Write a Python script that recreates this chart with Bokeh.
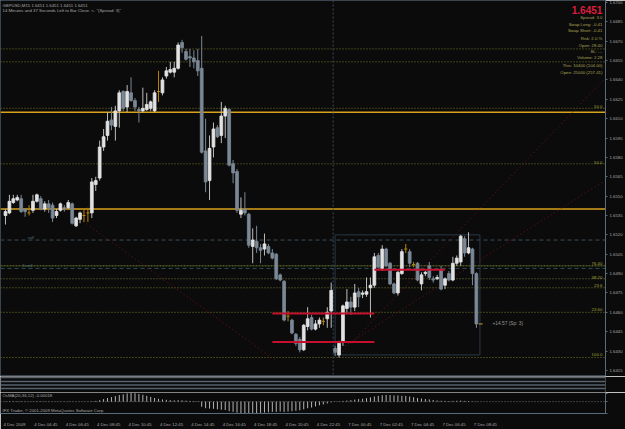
from bokeh.plotting import figure
from bokeh.models import Range1d, FixedTicker, Span, Label, ColumnDataSource, NumeralTickFormatter
from bokeh.layouts import column
from bokeh.embed import file_html
from bokeh.resources import INLINE

# ---------------- data (GBPUSD, M15) ----------------
opens = [1.6535, 1.6537, 1.6545, 1.6547, 1.6548, 1.6540, 1.6537, 1.6539, 1.6546, 1.6548,
         1.6540, 1.6544, 1.6543, 1.6535, 1.6539, 1.6541, 1.6541, 1.6544, 1.6527, 1.6532,
         1.6535, 1.6537, 1.6537, 1.6559, 1.6564, 1.6588, 1.6597, 1.6609, 1.6604, 1.6616,
         1.6631, 1.6619, 1.6630, 1.6624, 1.6617, 1.6616, 1.6617, 1.6618, 1.6616, 1.6631,
         1.6630, 1.6643, 1.6646, 1.6646, 1.6649, 1.6669, 1.6662, 1.6658, 1.6657, 1.6655,
         1.6649, 1.6585, 1.6562, 1.6588, 1.6603, 1.6597, 1.6612, 1.6617, 1.6575, 1.6569,
         1.6536, 1.6540, 1.6536, 1.6511, 1.6515, 1.6510, 1.6509, 1.6511, 1.6506, 1.6505,
         1.6489, 1.6484, 1.6457, 1.6454, 1.6443, 1.6439, 1.6431, 1.6449, 1.6456, 1.6447,
         1.6451, 1.6453, 1.6455, 1.6461, 1.6432, 1.6427, 1.6437, 1.6463, 1.6468, 1.6464,
         1.6476, 1.6474, 1.6474, 1.6479, 1.6481, 1.6504, 1.6494, 1.6509, 1.6498, 1.6482,
         1.6475, 1.6490, 1.6509, 1.6507, 1.6497, 1.6498, 1.6482, 1.6490, 1.6496, 1.6486,
         1.6486, 1.6493, 1.6481, 1.6490, 1.6485, 1.6498, 1.6499, 1.6517, 1.6506, 1.6509,
         1.6490]
highs = [1.6540, 1.6551, 1.6551, 1.6551, 1.6551, 1.6540, 1.6543, 1.6551, 1.6552, 1.6550,
         1.6546, 1.6547, 1.6545, 1.6540, 1.6545, 1.6543, 1.6547, 1.6545, 1.6534, 1.6538,
         1.6540, 1.6541, 1.6564, 1.6565, 1.6593, 1.6602, 1.6615, 1.6619, 1.6620, 1.6632,
         1.6632, 1.6636, 1.6642, 1.6626, 1.6619, 1.6634, 1.6630, 1.6624, 1.6632, 1.6647,
         1.6642, 1.6650, 1.6654, 1.6654, 1.6669, 1.6671, 1.6664, 1.6664, 1.6663, 1.6664,
         1.6674, 1.6610, 1.6597, 1.6607, 1.6605, 1.6623, 1.6620, 1.6618, 1.6578, 1.6571,
         1.6549, 1.6553, 1.6537, 1.6525, 1.6527, 1.6513, 1.6521, 1.6513, 1.6509, 1.6506,
         1.6490, 1.6485, 1.6461, 1.6455, 1.6444, 1.6441, 1.6451, 1.6464, 1.6458, 1.6454,
         1.6456, 1.6456, 1.6464, 1.6483, 1.6434, 1.6438, 1.6466, 1.6478, 1.6472, 1.6482,
         1.6479, 1.6477, 1.6487, 1.6487, 1.6506, 1.6506, 1.6512, 1.6510, 1.6499, 1.6483,
         1.6492, 1.6509, 1.6513, 1.6509, 1.6499, 1.6499, 1.6491, 1.6492, 1.6499, 1.6488,
         1.6489, 1.6496, 1.6487, 1.6492, 1.6503, 1.6504, 1.6520, 1.6519, 1.6522, 1.6510,
         1.6491]
lows = [1.6528, 1.6536, 1.6544, 1.6546, 1.6537, 1.6534, 1.6535, 1.6537, 1.6545, 1.6539,
        1.6538, 1.6537, 1.6530, 1.6533, 1.6538, 1.6538, 1.6540, 1.6528, 1.6526, 1.6529,
        1.6530, 1.6530, 1.6533, 1.6554, 1.6562, 1.6585, 1.6593, 1.6601, 1.6593, 1.6603,
        1.6616, 1.6615, 1.6623, 1.6616, 1.6607, 1.6615, 1.6616, 1.6616, 1.6615, 1.6623,
        1.6628, 1.6641, 1.6645, 1.6642, 1.6648, 1.6661, 1.6655, 1.6650, 1.6649, 1.6643,
        1.6583, 1.6553, 1.6547, 1.6580, 1.6595, 1.6591, 1.6595, 1.6573, 1.6560, 1.6537,
        1.6533, 1.6535, 1.6510, 1.6498, 1.6506, 1.6498, 1.6504, 1.6505, 1.6501, 1.6485,
        1.6484, 1.6453, 1.6453, 1.6443, 1.6434, 1.6429, 1.6430, 1.6446, 1.6446, 1.6446,
        1.6448, 1.6450, 1.6448, 1.6448, 1.6426, 1.6425, 1.6434, 1.6459, 1.6458, 1.6461,
        1.6464, 1.6471, 1.6472, 1.6456, 1.6479, 1.6494, 1.6492, 1.6495, 1.6481, 1.6474,
        1.6473, 1.6489, 1.6506, 1.6495, 1.6495, 1.6484, 1.6477, 1.6488, 1.6485, 1.6483,
        1.6485, 1.6477, 1.6478, 1.6484, 1.6484, 1.6496, 1.6496, 1.6503, 1.6505, 1.6481,
        1.6448]
closes = [1.6538, 1.6546, 1.6548, 1.6549, 1.6538, 1.6538, 1.6537, 1.6546, 1.6551, 1.6540,
          1.6544, 1.6541, 1.6533, 1.6538, 1.6544, 1.6540, 1.6545, 1.6529, 1.6533, 1.6537,
          1.6535, 1.6537, 1.6561, 1.6562, 1.6588, 1.6596, 1.6608, 1.6605, 1.6616, 1.6630,
          1.6618, 1.6631, 1.6624, 1.6619, 1.6616, 1.6618, 1.6621, 1.6623, 1.6630, 1.6631,
          1.6640, 1.6647, 1.6648, 1.6649, 1.6667, 1.6665, 1.6656, 1.6657, 1.6654, 1.6647,
          1.6584, 1.6561, 1.6587, 1.6602, 1.6596, 1.6612, 1.6618, 1.6574, 1.6568, 1.6539,
          1.6539, 1.6537, 1.6512, 1.6516, 1.6510, 1.6508, 1.6513, 1.6506, 1.6502, 1.6486,
          1.6485, 1.6454, 1.6457, 1.6444, 1.6436, 1.6431, 1.6450, 1.6455, 1.6447, 1.6451,
          1.6454, 1.6453, 1.6460, 1.6477, 1.6429, 1.6436, 1.6465, 1.6468, 1.6464, 1.6475,
          1.6472, 1.6475, 1.6476, 1.6481, 1.6503, 1.6495, 1.6509, 1.6496, 1.6482, 1.6475,
          1.6491, 1.6507, 1.6509, 1.6498, 1.6497, 1.6485, 1.6489, 1.6491, 1.6487, 1.6485,
          1.6487, 1.6478, 1.6486, 1.6485, 1.6498, 1.6502, 1.6519, 1.6506, 1.6510, 1.6490,
          1.6451]
osma = [0.00004, 0.00005, 0.00006, 0.00006, 0.00005, 0.00004, 0.00003, 0.00004, 0.00005, 0.00004,
        0.00004, 0.00003, 0.00002, 0.00002, 0.00003, 0.00003, 0.00004, 0.00002, 0.00001, 0.00001,
        0.00001, 0.00002, 0.00005, 0.00010, 0.00020, 0.00035, 0.00050, 0.00062, 0.00075, 0.00090,
        0.00100, 0.00112, 0.00118, 0.00115, 0.00105, 0.00095, 0.00080, 0.00065, 0.00050, 0.00040,
        0.00030, 0.00025, 0.00020, 0.00018, 0.00020, 0.00018, 0.00014, 0.00010, 0.00008, 0.00005,
        -0.00070, -0.00090, -0.00095, -0.00098, -0.00105, -0.00110, -0.00115, -0.00130, -0.00140, -0.00150,
        -0.00155, -0.00157, -0.00157, -0.00155, -0.00157, -0.00152, -0.00150, -0.00145, -0.00140, -0.00140,
        -0.00135, -0.00140, -0.00135, -0.00130, -0.00125, -0.00118, -0.00105, -0.00090, -0.00080, -0.00065,
        -0.00050, -0.00038, -0.00025, -0.00010, 0.00005, 0.00006, 0.00010, 0.00015, 0.00020, 0.00028,
        0.00035, 0.00040, 0.00048, 0.00058, 0.00070, 0.00078, 0.00088, 0.00092, 0.00090, 0.00085,
        0.00085, 0.00080, 0.00078, 0.00070, 0.00060, 0.00050, 0.00042, 0.00035, 0.00030, 0.00022,
        0.00016, 0.00012, 0.00010, 0.00008, 0.00010, 0.00012, 0.00014, 0.00010, 0.00008, 0.00004,
        -0.00003]

price_ticks = [1.6415, 1.6430, 1.6445, 1.6460, 1.6475, 1.6490, 1.6505, 1.6520, 1.6535, 1.6550,
               1.6565, 1.6580, 1.6595, 1.6610, 1.6625, 1.6640, 1.6655, 1.6670, 1.6685, 1.6700]
x_tick_bars = [-1, 7, 15, 23, 31, 39, 47, 55, 63, 71, 79, 87, 95, 103, 111, 119]
x_tick_labels = ["4 Dec 2009", "4 Dec 04:45", "4 Dec 06:45", "4 Dec 08:45", "4 Dec 10:45",
                 "4 Dec 12:45", "4 Dec 14:45", "4 Dec 16:45", "4 Dec 18:45", "4 Dec 20:45",
                 "4 Dec 22:45", "7 Dec 00:45", "7 Dec 02:45", "7 Dec 04:45", "7 Dec 06:45",
                 "7 Dec 08:45"]
osma_ticks = [0.00118, 0.0, -0.00157]
osma_tick_labels = ["0.00118", "0.00", "-0.00157"]

gold_levels = [1.6615, 1.6540]
olive_levels = [1.6664, 1.6654, 1.6618, 1.6575, 1.6486, 1.6479, 1.6460, 1.6425]
fib_label_levels = [1.6618, 1.6575, 1.6497, 1.6486, 1.6480, 1.6461, 1.6426]
fib_label_texts = ["50.0", "50.0", "76.40", "38.20", "23.6", "23.60", "100.0"]
fib76_level = 1.6496
sell_levels = [1.6516, 1.6494]
sell_texts = ["sell", "1 sell"]
red_y = [1.6459, 1.6437, 1.6493]
red_x0 = [68, 68, 94]
red_x1 = [94, 94, 112]
trend_x0 = [85.2, 86.5, 14.0]
trend_y0 = [1.6427, 1.6434, 1.6543]
trend_x1 = [152.7, 152.7, 68.7]
trend_y1 = [1.6641, 1.6562, 1.6423]
separator_bar = 83.5
box_bars = [84, 120.9]
box_prices = [1.6427, 1.6520]
bid = closes[-1]

info_texts = ["Spread: 3.0", "Swap Long: -0.41", "Swap Short: -0.41", "Risk: 2.0 %",
              "Open: 28.40", "SL: ---", "Volume: 2.28", "This: 10400 (104.00)",
              "Open: 25000 (257.41)"]

# ---------------- styling ----------------
BG = "#0b0b0b"
FONT = "Liberation Sans"
FS = "4.3px"
BULL = "#e2e2e2"
BULL_WICK = "#bdbdbd"
BEAR = "#7b8896"
DOJI = "#b8860b"
OLIVE = "#7a7a2a"
GOLD = "#d9a21b"
AXIS = "#5b6b79"
LABEL = "#a8a8a8"
FRAME_H = 376
X_START, X_END = -1.27, 152.9
RIGHT_X = 152.1          # bar position just left of the price axis
X_RANGE = Range1d(X_START, X_END)

main = figure(width=625, height=FRAME_H, x_range=X_RANGE, y_range=Range1d(1.64103, 1.67015),
              output_backend="svg", toolbar_location=None, x_axis_location=None,
              y_axis_location="right", min_border_left=0, min_border_right=19,
              min_border_top=0, min_border_bottom=0, background_fill_color=BG,
              border_fill_color=BG, outline_line_color="#3a4550")
main.grid.visible = False
ax = main.yaxis[0]
ax.ticker = FixedTicker(ticks=price_ticks)
ax.formatter = NumeralTickFormatter(format="0.0000")
ax.major_label_text_font_size = FS
ax.major_label_text_font = FONT
ax.major_label_text_color = LABEL
ax.axis_line_color = AXIS
ax.major_tick_line_color = AXIS
ax.major_tick_out = 2
ax.major_tick_in = 0
ax.minor_tick_line_color = None
ax.major_label_standoff = 2

# horizontal levels
for lv in olive_levels:
    main.add_layout(Span(location=lv, dimension="width", line_color=OLIVE, line_dash="1 2",
                         line_width=1, level="underlay"))
main.add_layout(Span(location=fib76_level, dimension="width", line_color="#6f7d30",
                     line_dash="2 1", line_width=1, level="underlay"))
main.add_layout(Span(location=sell_levels[0], dimension="width", line_color="#3c4d5a",
                     line_dash="4 3", line_width=1, level="underlay"))
main.add_layout(Span(location=sell_levels[1], dimension="width", line_color="#2d5050",
                     line_dash="4 3", line_width=1, level="underlay"))
for lv in gold_levels:
    main.add_layout(Span(location=lv, dimension="width", line_color=GOLD, line_width=1.5,
                         level="underlay"))
main.add_layout(Span(location=separator_bar, dimension="height", line_color="#3a4a5a",
                     line_dash="2 2", line_width=1, level="underlay"))

main.quad(left=[box_bars[0]], right=[box_bars[1]], bottom=[box_prices[0]], top=[box_prices[1]],
          fill_color=None, line_color="#2a3846", line_width=1)

# trend lines
main.segment(x0=trend_x0, y0=trend_y0, x1=trend_x1, y1=trend_y1, line_color="#74101f",
             line_dash="1 3", line_width=1)

# candles
n = len(opens)
ids = list(range(n))
bull = [i for i in ids if closes[i] > opens[i]]
bear = [i for i in ids if closes[i] < opens[i]]
doji = [i for i in ids if closes[i] == opens[i]]


def make_src(sel):
    return ColumnDataSource(dict(
        x=sel,
        h=[highs[i] for i in sel],
        l=[lows[i] for i in sel],
        top=[max(opens[i], closes[i]) for i in sel],
        bot=[min(opens[i], closes[i]) for i in sel],
    ))


sb, sr, sd = make_src(bull), make_src(bear), make_src(doji)
main.segment(x0="x", y0="l", x1="x", y1="h", source=sb, line_color=BULL_WICK, line_width=1)
main.vbar(x="x", width=0.72, top="top", bottom="bot", source=sb, fill_color=BULL,
          line_color=BULL, line_width=0.8)
main.segment(x0="x", y0="l", x1="x", y1="h", source=sr, line_color=BEAR, line_width=1)
main.vbar(x="x", width=0.72, top="top", bottom="bot", source=sr, fill_color=BEAR,
          line_color=BEAR, line_width=0.8)
main.segment(x0="x", y0="l", x1="x", y1="h", source=sd, line_color=DOJI, line_width=1)
main.segment(x0=[i - 0.4 for i in doji], y0=[opens[i] for i in doji],
             x1=[i + 0.4 for i in doji], y1=[opens[i] for i in doji],
             line_color=DOJI, line_width=1)

# red range lines
main.segment(x0=red_x0, y0=red_y, x1=red_x1, y1=red_y, line_color="#c4102c", line_width=2)

# bid marker
main.segment(x0=[n - 0.4], y0=[bid], x1=[n + 0.6], y1=[bid], line_color="#c8a040", line_width=1)


def lab(fig, text, x, y, size=FS, color=LABEL, align="left", baseline="middle",
        x_units="screen", y_units="screen", bold=False, bg=None, x_offset=0):
    kw = dict(x=x, y=y, x_units=x_units, y_units=y_units, text=text, text_font=FONT,
              text_font_size=size, text_color=color, text_align=align, x_offset=x_offset,
              text_baseline=baseline, text_font_style="bold" if bold else "normal")
    if bg is not None:
        kw.update(background_fill_color=bg, padding=1)
    fig.add_layout(Label(**kw))


# header texts
lab(main, "GBPUSD,M15  1.6451 1.6451 1.6451 1.6451", 2, FRAME_H - 5)
lab(main, "14 Minutes and 37 Seconds Left to Bar Close.  <-  \"(Spread: 3)\"", 2, FRAME_H - 10)

# info panel (right aligned just left of the price axis)
lab(main, "1.6451", RIGHT_X, FRAME_H - 9, size="10px", color="#dc1e3c", align="right",
    x_units="data", bold=True)
info_y = [17, 23.5, 29.5, 38, 44.5, 51, 57, 65, 72]
for t, yy in zip(info_texts, info_y):
    lab(main, t, RIGHT_X, FRAME_H - yy, color="#aaa455", align="right", x_units="data")

# fib labels
for t, lv in zip(fib_label_texts, fib_label_levels):
    lab(main, t, RIGHT_X, lv, color="#a3a33c", align="right", baseline="bottom",
        x_units="data", y_units="data")

# sell labels
lab(main, sell_texts[0], 27, sell_levels[0], color="#56707e", baseline="bottom", y_units="data")
lab(main, sell_texts[1], 22, sell_levels[1], color="#56707e", baseline="bottom", y_units="data")

# profit text
lab(main, "+14.57 (Sp: 3)", 492, bid, size="4.8px", color="#9a9a9a", y_units="data")

# price highlights on the axis
for txt, lv, bgc in [("1.6615", gold_levels[0], GOLD), ("1.6540", gold_levels[1], GOLD),
                     ("1.6451", bid, "#c9ced3")]:
    lab(main, txt, X_END, lv, color="#111111", x_units="data", y_units="data", bg=bgc,
        x_offset=3)

# ---------------- separator bands ----------------
bands = figure(width=625, height=16, x_range=X_RANGE, y_range=Range1d(0, 16),
               output_backend="svg", toolbar_location=None, x_axis_location=None,
               y_axis_location=None, min_border_left=0, min_border_right=19,
               min_border_top=0, min_border_bottom=0, background_fill_color=BG,
               border_fill_color=BG, outline_line_color=None)
bands.grid.visible = False
for yy in [15, 11, 7.5, 4]:
    bands.add_layout(Span(location=yy, dimension="width", line_color="#56626d", line_width=1.5))

# ---------------- OsMA ----------------
osf = figure(width=625, height=37, x_range=X_RANGE, y_range=Range1d(-0.00162, 0.00125),
             output_backend="svg", toolbar_location=None, x_axis_location="below",
             y_axis_location="right", min_border_left=0, min_border_right=19,
             min_border_top=0, min_border_bottom=0, background_fill_color=BG,
             border_fill_color=BG, outline_line_color=None)
osf.grid.visible = False
osf.add_layout(Span(location=0, dimension="width", line_color="#707070", line_dash="1 2",
                    line_width=1, level="underlay"))
osf.segment(x0=ids, y0=[0] * n, x1=ids, y1=osma, line_color="#b4b4b4", line_width=1)

xa = osf.xaxis[0]
tick_pos = [round(t + 3.3, 2) for t in x_tick_bars]
xa.ticker = FixedTicker(ticks=tick_pos)
xa.major_label_overrides = {p: s for p, s in zip(tick_pos, x_tick_labels)}
xa.major_label_text_font_size = FS
xa.major_label_text_font = FONT
xa.major_label_text_color = LABEL
xa.axis_line_color = AXIS
xa.major_tick_line_color = None
xa.minor_tick_line_color = None
xa.major_label_standoff = 2

ya = osf.yaxis[0]
ya.ticker = FixedTicker(ticks=osma_ticks)
ya.major_label_overrides = {t: "" for t in osma_ticks}
ya.axis_line_color = AXIS
ya.major_tick_line_color = AXIS
ya.major_tick_out = 2
ya.major_tick_in = 0
ya.minor_tick_line_color = None
ya.major_label_standoff = 0
for t, s in zip(osma_ticks, osma_tick_labels):
    lab(osf, s, X_END, t, align="right", x_units="data", y_units="data", x_offset=18.5)

lab(osf, "OsMA(20,36,12) -0.00018", 2, 0.00085, y_units="data")
lab(osf, "IFX Trader, \u00a9 2001-2009 MetaQuotes Software Corp.", 2, -0.00115, y_units="data")

layout = column(main, bands, osf, spacing=0)
open("out.html", "w").write(file_html(layout, INLINE))
